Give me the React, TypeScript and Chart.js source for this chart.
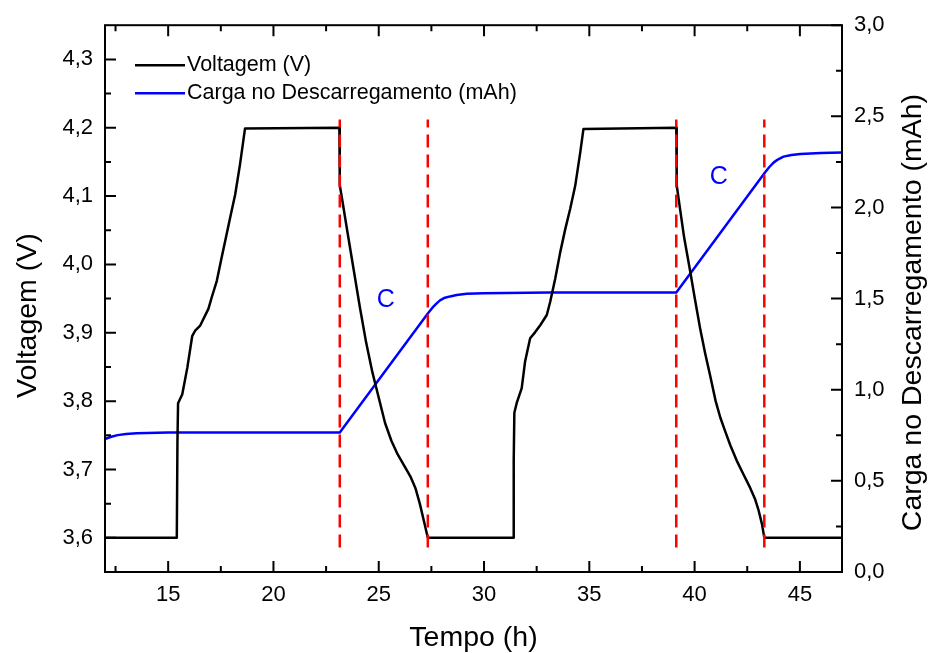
import { useEffect, useRef } from 'react';
import { Chart, registerables } from 'chart.js';

Chart.register(...registerables);

// ---- Data ----
const voltageTime = [
  12, 15.41, 15.44, 15.47, 15.67, 15.91, 16.14, 16.28, 16.51, 16.91, 17.07, 17.31, 17.54, 17.94,
  18.18, 18.41, 18.65, 23.13,
  23.15, 23.3, 23.5, 23.8, 24.1, 24.4, 24.7, 25.0, 25.3, 25.6, 25.9, 26.2, 26.5, 26.75, 26.95,
  27.15, 27.33,
  31.4, 31.41, 31.44, 31.55, 31.79, 31.95, 32.19, 32.43, 32.67, 32.98, 33.14, 33.38, 33.62, 33.86,
  34.09, 34.33, 34.57, 34.72, 39.13,
  39.15, 39.3, 39.5, 39.79, 40.0, 40.27, 40.5, 40.74, 41.0, 41.22, 41.45, 41.7, 42.0, 42.3, 42.64,
  42.88, 43.04, 43.2, 43.31, 47,
];
const voltage = [
  3.6, 3.6, 3.74, 3.797, 3.81, 3.849, 3.895, 3.903, 3.91, 3.935, 3.952, 3.976, 4.01, 4.068,
  4.102, 4.146, 4.199, 4.2,
  4.116, 4.088, 4.05, 3.994, 3.938, 3.886, 3.842, 3.805, 3.768, 3.742, 3.722, 3.706, 3.69, 3.672, 3.65,
  3.624, 3.6,
  3.6, 3.712, 3.783, 3.797, 3.819, 3.858, 3.892, 3.901, 3.911, 3.926, 3.945, 3.979, 4.018, 4.052,
  4.081, 4.115, 4.164, 4.198, 4.2,
  4.116, 4.083, 4.04, 3.99, 3.952, 3.905, 3.87, 3.837, 3.8, 3.776, 3.756, 3.735, 3.713, 3.694, 3.673,
  3.656, 3.64, 3.62, 3.6, 3.6,
];
const chargeTime = [
  12, 12.3, 12.6, 13, 13.5, 14, 15, 23.15, 27.33, 27.55, 27.75, 27.91, 28.1, 28.39, 28.7, 29.18,
  29.97, 33.14, 39.13, 43.35, 43.55, 43.75, 43.95, 44.22, 44.6, 45.02, 46, 47,
];
const charge = [
  0.73, 0.742, 0.751, 0.757, 0.761, 0.763, 0.765, 0.766, 1.418, 1.45, 1.474, 1.49, 1.503, 1.512, 1.52, 1.527,
  1.53, 1.533, 1.533, 2.193, 2.222, 2.246, 2.263, 2.279, 2.288, 2.293, 2.299, 2.302,
];
const markerTimes = [23.15, 27.33, 39.13, 43.31];
const markerVoltageRange = [3.586, 4.212];
const cLabelTime = [25.33, 41.15];
const cLabelCharge = [1.49, 2.164];
const cLabelText = 'C';

const xTicks = [15, 20, 25, 30, 35, 40, 45];
const xMinorTicks = [12.5, 17.5, 22.5, 27.5, 32.5, 37.5, 42.5];
const vTicks = [3.6, 3.7, 3.8, 3.9, 4.0, 4.1, 4.2, 4.3];
const vMinorTicks = [3.65, 3.75, 3.85, 3.95, 4.05, 4.15, 4.25];
const qTicks = [0, 0.5, 1, 1.5, 2, 2.5, 3];
const qMinorTicks = [0.25, 0.75, 1.25, 1.75, 2.25, 2.75];

const legendLabels = ['Voltagem (V)', 'Carga no Descarregamento (mAh)'];
const xTitle = 'Tempo (h)';
const yTitle = 'Voltagem (V)';
const y1Title = 'Carga no Descarregamento (mAh)';

const FONT = '"Liberation Sans", Arial, sans-serif';
const comma = (v: number) => v.toFixed(1).replace('.', ',');

const decorPlugin = {
  id: 'decor',
  afterDatasetsDraw(chart: any) {
    const { ctx, chartArea } = chart;
    const { left, right, top, bottom } = chartArea;
    const xs = chart.scales.x;
    const ys = chart.scales.y;
    const y1s = chart.scales.y1;
    ctx.save();
    ctx.strokeStyle = '#000';
    ctx.lineWidth = 2;
    ctx.strokeRect(left, top, right - left, bottom - top);
    const MAJ = 11;
    const MIN = 6;
    ctx.beginPath();
    const xt = (v: number, len: number) => {
      const p = xs.getPixelForValue(v);
      ctx.moveTo(p, bottom);
      ctx.lineTo(p, bottom - len);
      ctx.moveTo(p, top);
      ctx.lineTo(p, top + len);
    };
    xTicks.forEach((v) => xt(v, MAJ));
    xMinorTicks.forEach((v) => xt(v, MIN));
    const yt = (v: number, len: number) => {
      const p = ys.getPixelForValue(v);
      ctx.moveTo(left, p);
      ctx.lineTo(left + len, p);
    };
    vTicks.forEach((v) => yt(v, MAJ));
    vMinorTicks.forEach((v) => yt(v, MIN));
    const y1t = (v: number, len: number) => {
      const p = y1s.getPixelForValue(v);
      ctx.moveTo(right, p);
      ctx.lineTo(right - len, p);
    };
    qTicks.forEach((v) => y1t(v, MAJ));
    qMinorTicks.forEach((v) => y1t(v, MIN));
    ctx.stroke();

    // C labels
    ctx.fillStyle = '#0000ff';
    ctx.font = `25px ${FONT}`;
    ctx.textAlign = 'center';
    ctx.textBaseline = 'middle';
    cLabelTime.forEach((t, i) => {
      ctx.fillText(cLabelText, xs.getPixelForValue(t), y1s.getPixelForValue(cLabelCharge[i]));
    });

    // Legend
    const legendColors = ['#000000', '#0000ff'];
    ctx.font = `21.5px ${FONT}`;
    ctx.textAlign = 'left';
    legendLabels.forEach((lab, i) => {
      const ly = top + 40 + i * 28;
      ctx.strokeStyle = legendColors[i];
      ctx.lineWidth = 2.5;
      ctx.beginPath();
      ctx.moveTo(left + 30, ly);
      ctx.lineTo(left + 80, ly);
      ctx.stroke();
      ctx.fillStyle = '#000';
      ctx.fillText(lab, left + 82, ly);
    });

    // Axis titles
    ctx.fillStyle = '#000';
    ctx.font = `28.5px ${FONT}`;
    ctx.textAlign = 'center';
    ctx.textBaseline = 'middle';
    ctx.fillText(xTitle, (left + right) / 2, bottom + 66);
    ctx.save();
    ctx.translate(28, (top + bottom) / 2 + 17);
    ctx.rotate(-Math.PI / 2);
    ctx.fillText(yTitle, 0, 0);
    ctx.restore();
    ctx.save();
    ctx.translate(right + 71, (top + bottom) / 2 + 14);
    ctx.rotate(-Math.PI / 2);
    ctx.fillText(y1Title, 0, 0);
    ctx.restore();
    ctx.restore();
  },
};

export default function App() {
  const ref = useRef<HTMLCanvasElement | null>(null);
  useEffect(() => {
    if (!ref.current) return;
    const tickFont = { family: FONT, size: 22 };
    const markerSets = markerTimes.map((t) => ({
      label: 'marker',
      data: [
        { x: t, y: markerVoltageRange[0] },
        { x: t, y: markerVoltageRange[1] },
      ],
      borderColor: '#ff0000',
      borderWidth: 2.5,
      borderDash: [13, 7],
      pointRadius: 0,
      yAxisID: 'y',
    }));
    const chart = new Chart(ref.current, {
      type: 'line',
      data: {
        datasets: [
          ...markerSets,
          {
            label: legendLabels[0],
            data: voltageTime.map((t, i) => ({ x: t, y: voltage[i] })),
            borderColor: '#000000',
            borderWidth: 2.5,
            pointRadius: 0,
            tension: 0,
            borderJoinStyle: 'round',
            yAxisID: 'y',
          },
          {
            label: legendLabels[1],
            data: chargeTime.map((t, i) => ({ x: t, y: charge[i] })),
            borderColor: '#0000ff',
            borderWidth: 2.5,
            pointRadius: 0,
            tension: 0,
            borderJoinStyle: 'round',
            yAxisID: 'y1',
          },
        ],
      } as any,
      options: {
        animation: false,
        responsive: false,
        layout: { padding: { top: 23, left: 0, right: 0, bottom: 0 } },
        plugins: { legend: { display: false }, tooltip: { enabled: false } },
        scales: {
          x: {
            type: 'linear',
            min: 12,
            max: 47,
            afterBuildTicks: (s: any) => {
              s.ticks = xTicks.map((v) => ({ value: v }));
            },
            afterFit: (s: any) => {
              s.height = 81;
            },
            grid: { display: false, drawTicks: false, tickLength: 0 },
            border: { display: false },
            ticks: { padding: 10, color: '#000', font: tickFont, callback: (v: any) => String(v) },
          },
          y: {
            type: 'linear',
            position: 'left',
            min: 3.55,
            max: 4.35,
            afterBuildTicks: (s: any) => {
              s.ticks = vTicks.map((v) => ({ value: v }));
            },
            afterFit: (s: any) => {
              s.width = 105;
            },
            grid: { display: false, drawTicks: false, tickLength: 0 },
            border: { display: false },
            ticks: { padding: 12, color: '#000', font: tickFont, callback: (v: any) => comma(Number(v)) },
          },
          y1: {
            type: 'linear',
            position: 'right',
            min: 0,
            max: 3,
            afterBuildTicks: (s: any) => {
              s.ticks = qTicks.map((v) => ({ value: v }));
            },
            afterFit: (s: any) => {
              s.width = 93;
            },
            grid: { display: false, drawTicks: false, tickLength: 0 },
            border: { display: false },
            ticks: { padding: 12, color: '#000', font: tickFont, callback: (v: any) => comma(Number(v)) },
          },
        },
      } as any,
      plugins: [decorPlugin],
    });
    return () => chart.destroy();
  }, []);
  return (
    <div style={{ position: 'absolute', left: 0, top: 0, width: 935, height: 653, background: '#fff' }}>
      <canvas ref={ref} width={935} height={653} style={{ display: 'block' }} />
    </div>
  );
}
